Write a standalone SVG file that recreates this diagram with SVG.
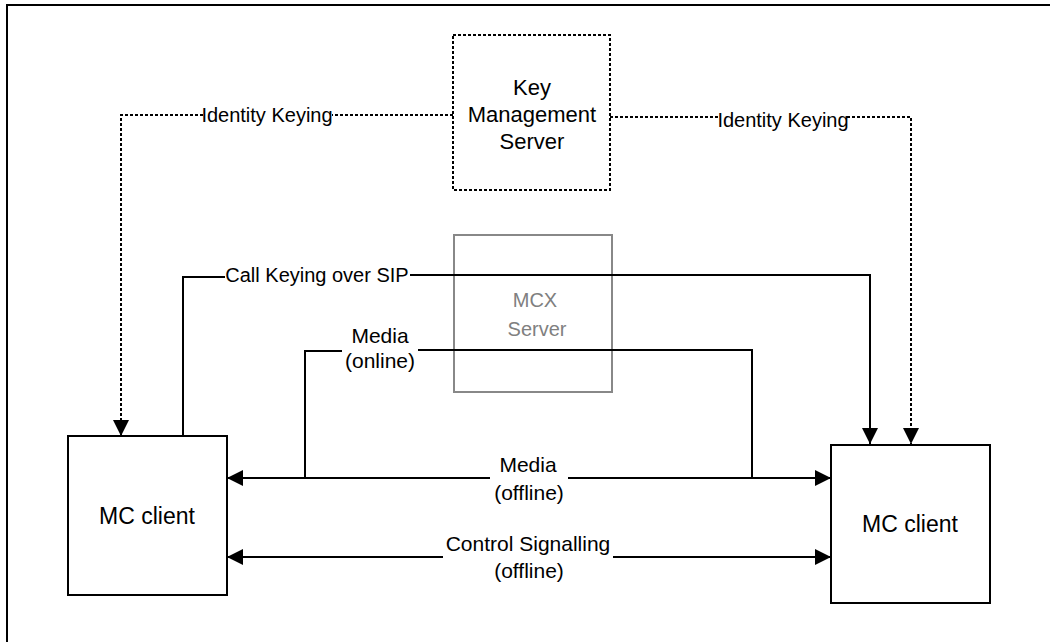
<svg xmlns="http://www.w3.org/2000/svg" width="1050" height="642" viewBox="0 0 1050 642">
<style>
text{font-family:"Liberation Sans",Arial,sans-serif;fill:#000;text-anchor:middle}
.solid{fill:none;stroke:#000;stroke-width:2}
.dot{fill:none;stroke:#000;stroke-width:2;stroke-dasharray:3 2}
.box{fill:#fff;stroke:#000;stroke-width:2}
.gbox{fill:none;stroke:#888;stroke-width:2}
.lbl{font-size:20px}
.mid{font-size:21px}
.gtxt{fill:#808080;font-size:20px}
</style>
<defs>
<marker id="ah" markerUnits="userSpaceOnUse" markerWidth="17" markerHeight="17" refX="16" refY="8" orient="auto">
<path d="M0,0 L16,8 L0,16 Z" fill="#000"/>
</marker>
</defs>
<rect width="1050" height="642" fill="#fff"/>
<path d="M7,642 V5 H1050" fill="none" stroke="#000" stroke-width="2"/>

<g id="mcx-server">
<rect class="gbox" x="454" y="235" width="158" height="157"/>
<text class="gtxt" x="535" y="307">MCX</text>
<text class="gtxt" x="537" y="336">Server</text>
</g>

<g id="connectors">
<!-- Identity keying left -->
<path class="dot" d="M453,115 H332"/>
<path class="dot" d="M203,115 H121 V436" marker-end="url(#ah)"/>
<text class="lbl" x="267" y="122">Identity Keying</text>
<!-- Identity keying right -->
<path class="dot" d="M610,117 H720"/>
<path class="dot" d="M847,117 H911 V444" marker-end="url(#ah)"/>
<text class="lbl" x="783" y="127">Identity Keying</text>
<!-- Call keying over SIP -->
<path class="solid" d="M183,436 V277 H225"/>
<path class="solid" d="M410,275 H870 V444" marker-end="url(#ah)"/>
<text class="lbl" x="317" y="282">Call Keying over SIP</text>
<!-- Media online -->
<path class="solid" d="M342,351 H305 V478"/>
<path class="solid" d="M418,350 H752 V478"/>
<text class="mid" x="380" y="343">Media</text>
<text class="mid" x="380" y="368">(online)</text>
<!-- Media offline -->
<path class="solid" d="M490,478 H227" marker-end="url(#ah)"/>
<path class="solid" d="M568,478 H831" marker-end="url(#ah)"/>
<text class="mid" x="528" y="472">Media</text>
<text class="mid" x="529" y="500">(offline)</text>
<!-- Control signalling -->
<path class="solid" d="M443,557 H227" marker-end="url(#ah)"/>
<path class="solid" d="M613,557 H831" marker-end="url(#ah)"/>
<text class="mid" x="528" y="551">Control Signalling</text>
<text class="mid" x="529" y="578">(offline)</text>
</g>

<g id="kms">
<rect class="dot" x="453" y="35" width="157" height="155"/>
<text font-size="22" x="532" y="95">Key</text>
<text font-size="22" x="532" y="122">Management</text>
<text font-size="22" x="532" y="149">Server</text>
</g>

<g id="mc-client-left">
<rect class="box" x="68" y="436" width="159" height="159"/>
<text font-size="23" x="147" y="524">MC client</text>
</g>

<g id="mc-client-right">
<rect class="box" x="831" y="445" width="159" height="158"/>
<text font-size="23" x="910" y="532">MC client</text>
</g>
</svg>
